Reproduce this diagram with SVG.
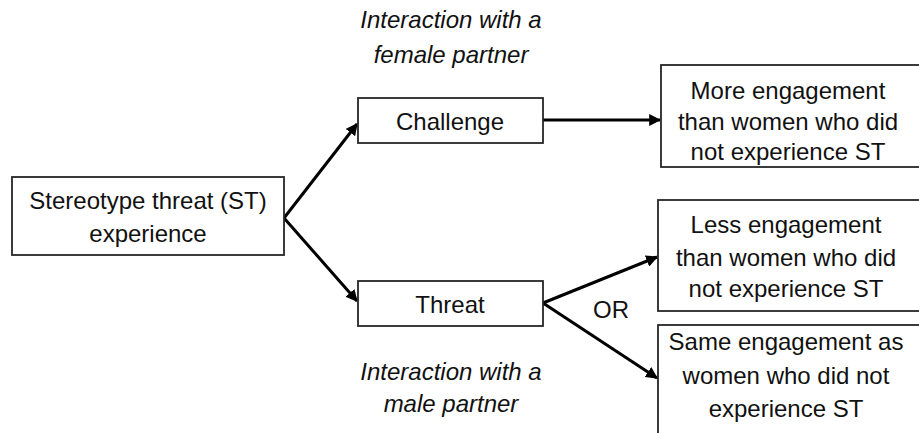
<svg xmlns="http://www.w3.org/2000/svg" width="919" height="433" viewBox="0 0 919 433">
<defs>
<marker id="ah" viewBox="0 0 10 10" refX="9" refY="5" markerWidth="4" markerHeight="4" orient="auto" markerUnits="strokeWidth">
<path d="M0,0 L10,5 L0,10 z" fill="#000"/>
</marker>
</defs>
<style>
.box{fill:#fff;stroke:#262626;stroke-width:1.8}
.t{font-family:"Liberation Sans",Arial,sans-serif;font-size:24px;fill:#111;text-anchor:middle}
.i{font-style:italic}
.c{fill:none;stroke:#000;stroke-width:3;marker-end:url(#ah)}
</style>
<rect width="919" height="433" fill="#fff"/>
<g id="connectors">
<line class="c" x1="284" y1="218" x2="357" y2="124"/>
<line class="c" x1="284" y1="218" x2="357" y2="301"/>
<line class="c" x1="543" y1="120" x2="660" y2="120"/>
<line class="c" x1="543" y1="303" x2="657" y2="257"/>
<line class="c" x1="543" y1="303" x2="657" y2="378"/>
</g>
<g id="st">
<rect class="box" x="12" y="177" width="272" height="78"/>
<text class="t" x="148" y="209">Stereotype threat (ST)</text>
<text class="t" x="148" y="242">experience</text>
</g>
<g id="challenge">
<rect class="box" x="358" y="98" width="185" height="45"/>
<text class="t" x="450" y="130">Challenge</text>
</g>
<g id="threat">
<rect class="box" x="358" y="281" width="185" height="45"/>
<text class="t" x="450" y="313">Threat</text>
</g>
<g id="more">
<rect class="box" x="661" y="65" width="262" height="102"/>
<text class="t" x="788" y="99">More engagement</text>
<text class="t" x="788" y="130">than women who did</text>
<text class="t" x="788" y="160">not experience ST</text>
</g>
<g id="less">
<rect class="box" x="658" y="200" width="265" height="111"/>
<text class="t" x="786" y="233">Less engagement</text>
<text class="t" x="786" y="266">than women who did</text>
<text class="t" x="786" y="297">not experience ST</text>
</g>
<g id="same">
<rect class="box" x="658" y="325" width="265" height="112"/>
<text class="t" x="786" y="350">Same engagement as</text>
<text class="t" x="786" y="384">women who did not</text>
<text class="t" x="786" y="417">experience ST</text>
</g>
<g id="labels">
<text class="t" x="611" y="318">OR</text>
<text class="t i" x="451" y="28">Interaction with a</text>
<text class="t i" x="451" y="63">female partner</text>
<text class="t i" x="451" y="380">Interaction with a</text>
<text class="t i" x="451" y="412">male partner</text>
</g>
</svg>
